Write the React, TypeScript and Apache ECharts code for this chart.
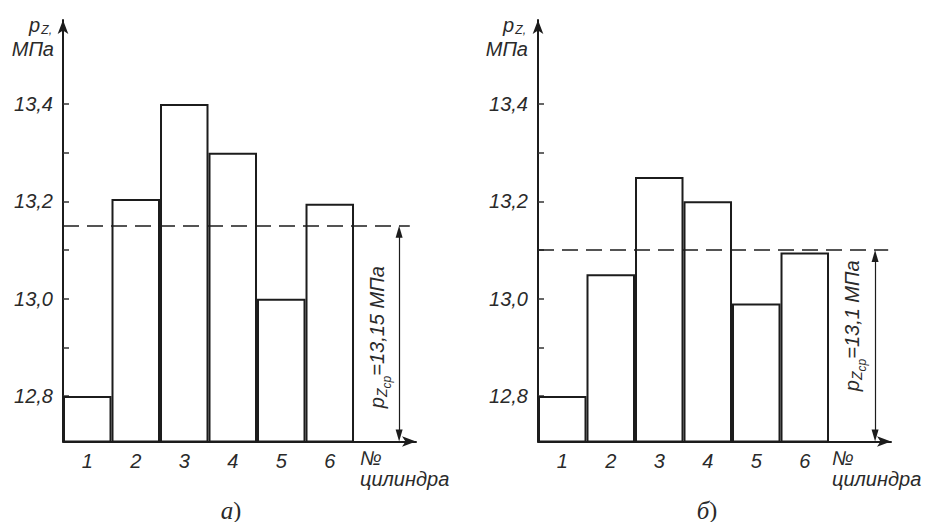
import React, { useEffect, useRef } from "react";
import * as echarts from "echarts";

// ---- data ----
const cylinders = ["1", "2", "3", "4", "5", "6"];
const pressureA = [12.8, 13.205, 13.4, 13.3, 13.0, 13.195];
const pressureB = [12.8, 13.05, 13.25, 13.2, 12.99, 13.095];
const meanA = 13.15;
const meanB = 13.1;
const meanLabelA = "13,15";
const meanLabelB = "13,1";
const yLabelValues = [12.8, 13.0, 13.2, 13.4];
const yTickValues = [12.8, 12.9, 13.0, 13.1, 13.2, 13.3, 13.4];
const panelCaptions = ["а", "б"];

// ---- layout constants ----
const Y_MIN = 12.7065;
const Y_MAX = 13.5726;
const X_MAX = 7.278;
const GRID_TOP = 20;
const GRID_H = 421.5;
const GRID_W = 353;
const LEFTS = [63, 538];
const INK = "#1c1c1c";
const TXT = "#2a2a2a";
const SANS = "'Liberation Sans', Arial, sans-serif";
const SERIF = "'Liberation Serif', 'Times New Roman', serif";
const ARROW_INSET = 0.0125;
const BASE = 0.3465; // em offset from em-centre to baseline

function fmt(v: number) {
  return v.toFixed(1).replace(".", ",");
}

function txt(x: number, baseline: number, text: string, fs: number, align = "left", lh?: number) {
  return {
    type: "text",
    x,
    y: baseline - BASE * fs,
    style: {
      text,
      align,
      verticalAlign: "middle",
      fill: TXT,
      fontSize: fs,
      lineHeight: lh ?? fs,
      fontStyle: "italic",
      fontFamily: SANS,
    },
  };
}

export default function App() {
  const ref = useRef<HTMLDivElement>(null);
  useEffect(() => {
    document.body.style.margin = "0";
    const chart = echarts.init(ref.current!, null, { renderer: "svg" });
    const panels = [
      { data: pressureA, mean: meanA, meanLabel: meanLabelA, dashEnd: 7.15, dimX: 6.93 },
      { data: pressureB, mean: meanB, meanLabel: meanLabelB, dashEnd: 7.22, dimX: 6.95 },
    ];
    const grids = LEFTS.map((l) => ({ left: l, top: GRID_TOP, width: GRID_W, height: GRID_H }));
    const xAxes = LEFTS.map((_, i) => ({
      type: "value",
      gridIndex: i,
      min: 0,
      max: X_MAX,
      splitLine: { show: false },
      axisTick: { show: false },
      axisLine: {
        show: true,
        lineStyle: { color: INK, width: 2 },
        symbol: ["none", "arrow"],
        symbolSize: [8, 14],
      },
      axisLabel: {
        customValues: cylinders.map((_, k) => k + 0.5),
        formatter: (v: number) => cylinders[Math.round(v - 0.5)] ?? "",
        color: TXT,
        fontSize: 20,
        fontStyle: "italic",
        fontFamily: SANS,
        margin: 9,
      },
    }));
    const yAxes = LEFTS.map((_, i) => ({
      type: "value",
      gridIndex: i,
      min: Y_MIN,
      max: Y_MAX,
      splitLine: { show: false },
      axisLine: {
        show: true,
        lineStyle: { color: INK, width: 2 },
        symbol: ["none", "arrow"],
        symbolSize: [8, 14],
      },
      axisTick: {
        show: true,
        inside: true,
        length: 6,
        customValues: yTickValues,
        lineStyle: { color: "#333", width: 1.5 },
      },
      axisLabel: {
        customValues: yLabelValues,
        formatter: (v: number) => fmt(v),
        color: TXT,
        fontSize: 20,
        fontStyle: "italic",
        fontFamily: SANS,
        margin: 10,
      },
    }));
    const series = panels.map((p, i) => ({
      type: "bar",
      xAxisIndex: i,
      yAxisIndex: i,
      barWidth: 48.5,
      data: p.data.map((v, k) => [k + 0.5, v]),
      itemStyle: { color: "rgba(255,255,255,0)", borderColor: INK, borderWidth: 2 },
      silent: true,
      markLine: {
        silent: true,
        animation: false,
        label: { show: false },
        emphasis: { disabled: true },
        data: [
          [
            { coord: [0, p.mean], symbol: "none", lineStyle: { type: [16, 8], width: 1.5, color: INK } },
            { coord: [p.dashEnd, p.mean], symbol: "none" },
          ],
          [
            { coord: [p.dimX, p.mean - ARROW_INSET], symbol: "triangle", symbolSize: [7, 12], lineStyle: { type: "solid", width: 1.2, color: INK } },
            { coord: [p.dimX, Y_MIN + ARROW_INSET], symbol: "triangle", symbolSize: [7, 12] },
          ],
        ],
        itemStyle: { color: INK },
      },
    }));

    const graphic: any[] = [];
    const offs = [0, 474];
    const xTitleX = [360, 832];
    const captionX = [231, 707];
    const dimBaseX = [384, 859];
    const dimCentreY = [338, 326];
    LEFTS.forEach((_, i) => {
      const o = offs[i];
      // y-axis title: p_Z, / МПа
      graphic.push(txt(40 + o, 32, "p", 20, "right"));
      graphic.push(txt(52 + o, 34, "Z,", 12, "right"));
      graphic.push(txt(54 + o, 56, "МПа", 20, "right", 17));
      // x-axis title
      graphic.push(txt(xTitleX[i], 465, "№", 20));
      graphic.push(txt(xTitleX[i], 486, "цилиндра", 20));
      // caption
      graphic.push({
        type: "text",
        x: captionX[i],
        y: 510,
        style: {
          text: `{a|${panelCaptions[i]}}{b|)}`,
          align: "center",
          verticalAlign: "middle",
          fill: TXT,
          rich: {
            a: { fontSize: 25, fontStyle: "italic", fontFamily: SERIF, fill: TXT },
            b: { fontSize: 24, fontFamily: SERIF, fill: TXT },
          },
        },
      });
      // rotated mean label p_Zср = ... МПа
      const mainText = `=${panels[i].meanLabel} МПа`;
      const wP = 11.1;
      const wZ = 8.6;
      const wS = 12.7;
      const mainW = mainText.length * 0.5 * 20 + 8;
      const total = wP + wZ + wS + mainW;
      const start = -total / 2;
      graphic.push({
        type: "group",
        x: dimBaseX[i],
        y: dimCentreY[i],
        rotation: Math.PI / 2,
        children: [
          txt(start, 0, "p", 20),
          txt(start + wP, 3, "Z", 14),
          txt(start + wP + wZ, 7, "ср", 12),
          txt(start + wP + wZ + wS, 0, mainText, 20),
        ],
      });
    });

    chart.setOption({
      animation: false,
      backgroundColor: "#ffffff",
      grid: grids,
      xAxis: xAxes,
      yAxis: yAxes,
      series,
      graphic,
    });
    return () => chart.dispose();
  }, []);
  return <div ref={ref} style={{ width: 933, height: 522 }} />;
}
